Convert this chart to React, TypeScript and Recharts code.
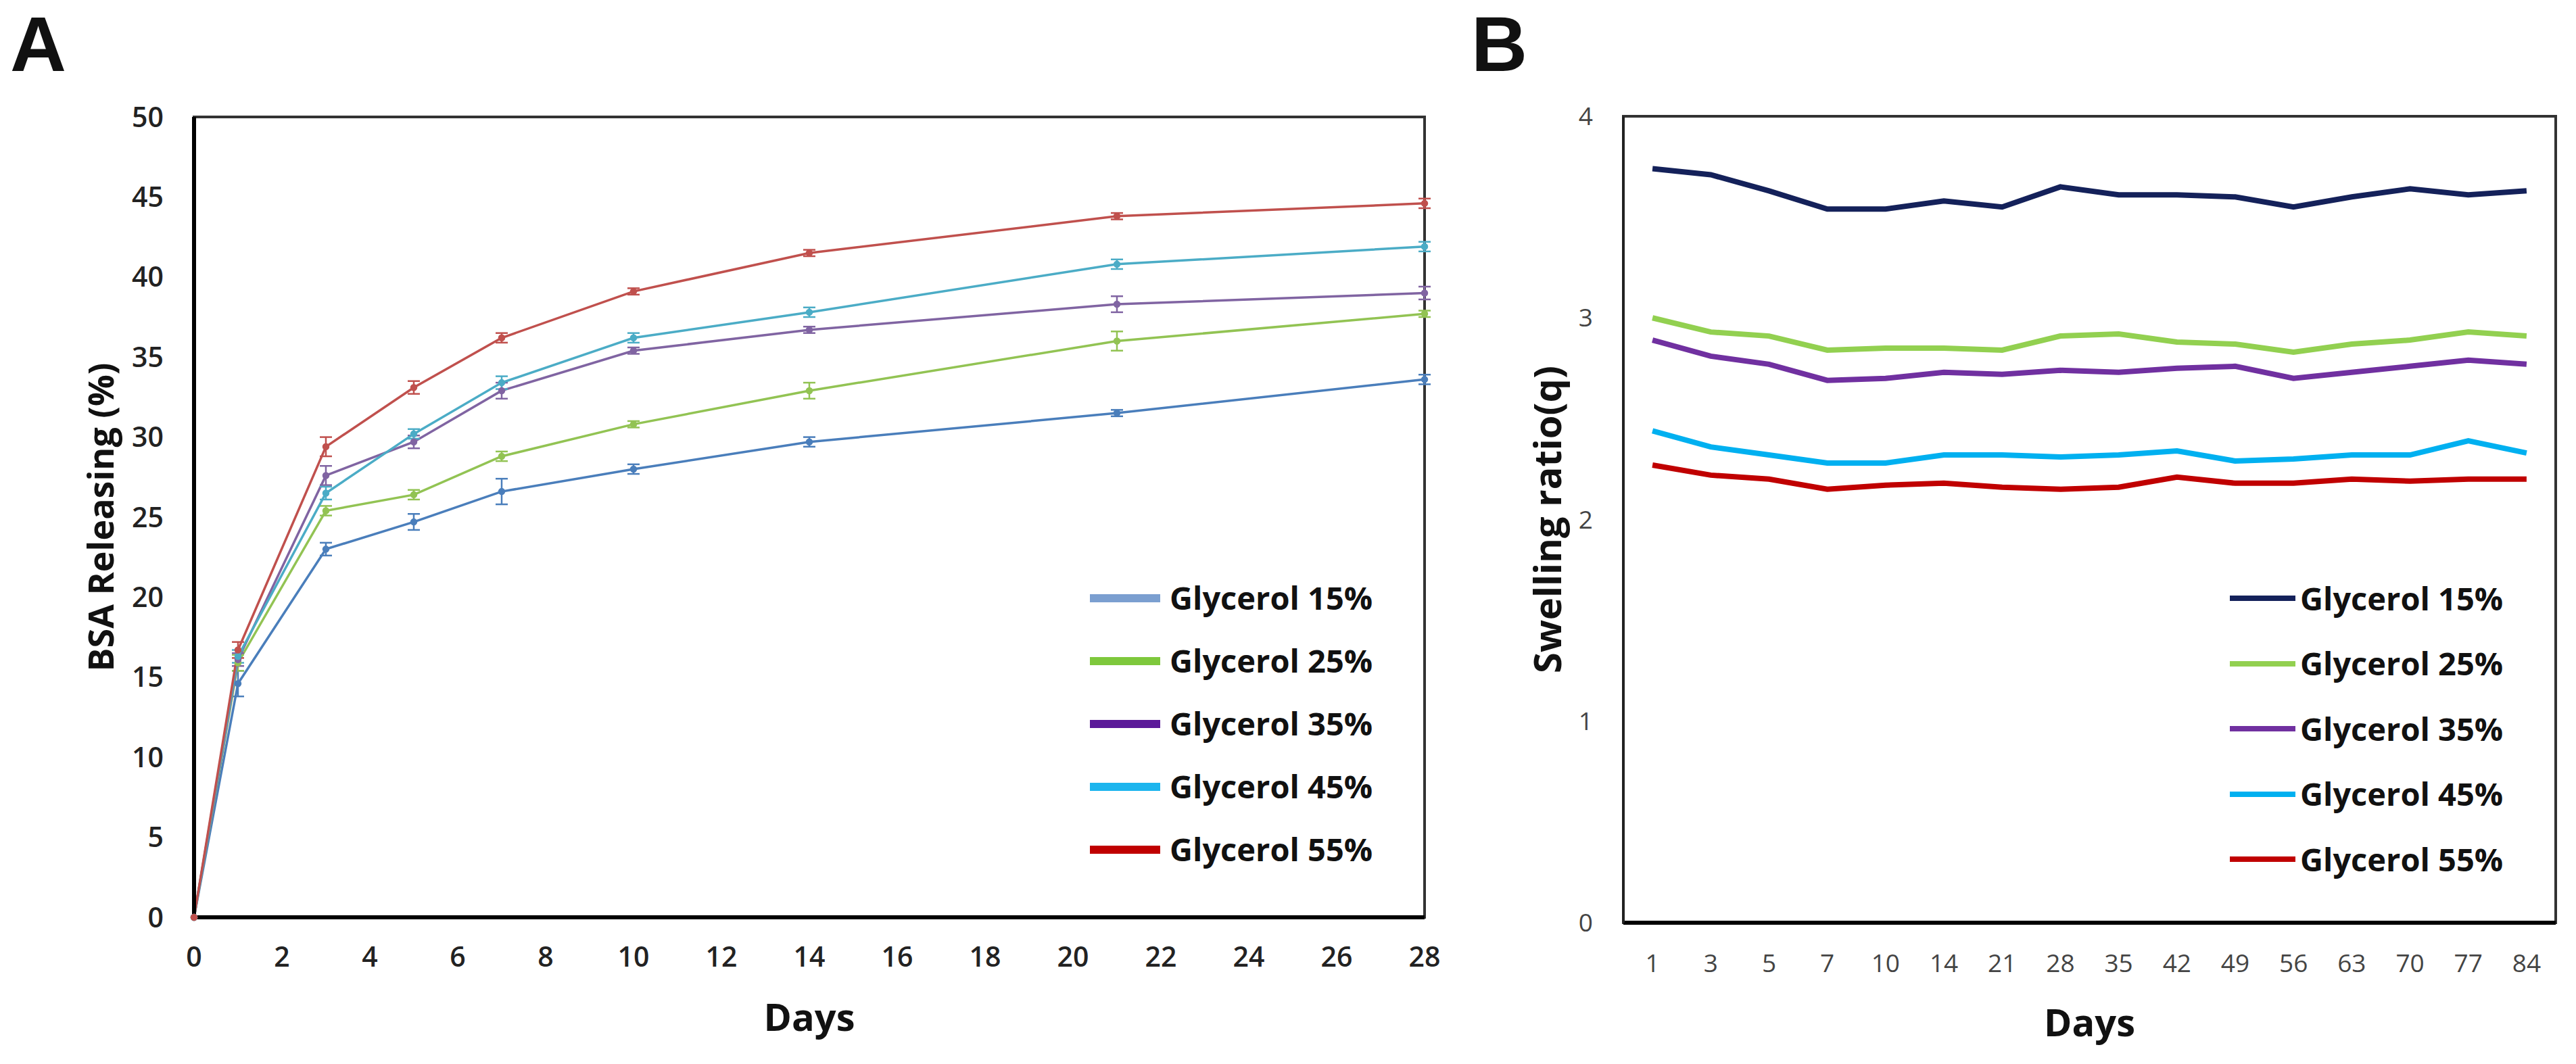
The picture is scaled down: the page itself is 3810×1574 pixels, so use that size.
import React from "react";
import {
  LineChart,
  Line,
  XAxis,
  YAxis,
  ErrorBar,
  ReferenceArea,
  Legend,
} from "recharts";

// panel A: BSA release over 28 days
const releaseDays = [0, 1, 3, 5, 7, 10, 14, 21, 28];
const release15 = [0, 14.6, 23.0, 24.7, 26.6, 28.0, 29.7, 31.5, 33.6];
const release25 = [0, 15.9, 25.4, 26.4, 28.8, 30.8, 32.9, 36.0, 37.7];
const release35 = [0, 16.1, 27.6, 29.7, 32.9, 35.4, 36.7, 38.3, 39.0];
const release45 = [0, 16.3, 26.5, 30.2, 33.4, 36.2, 37.8, 40.8, 41.9];
const release55 = [0, 16.7, 29.4, 33.1, 36.2, 39.1, 41.5, 43.8, 44.6];
const err15 = [0, 0.8, 0.4, 0.5, 0.8, 0.3, 0.3, 0.2, 0.3];
const err25 = [0, 0.5, 0.3, 0.3, 0.3, 0.2, 0.5, 0.6, 0.2];
const err35 = [0, 0.4, 0.6, 0.4, 0.5, 0.2, 0.2, 0.5, 0.4];
const err45 = [0, 0.4, 0.4, 0.3, 0.4, 0.3, 0.3, 0.3, 0.3];
const err55 = [0, 0.5, 0.6, 0.4, 0.3, 0.2, 0.2, 0.2, 0.3];
const releaseTicksX = [0, 2, 4, 6, 8, 10, 12, 14, 16, 18, 20, 22, 24, 26, 28];
const releaseTicksY = [0, 5, 10, 15, 20, 25, 30, 35, 40, 45, 50];

// panel B: swelling ratio over 84 days
const swellDays = ["1", "3", "5", "7", "10", "14", "21", "28", "35", "42", "49", "56", "63", "70", "77", "84"];
const swell15 = [3.74, 3.71, 3.63, 3.54, 3.54, 3.58, 3.55, 3.65, 3.61, 3.61, 3.60, 3.55, 3.60, 3.64, 3.61, 3.63];
const swell25 = [3.0, 2.93, 2.91, 2.84, 2.85, 2.85, 2.84, 2.91, 2.92, 2.88, 2.87, 2.83, 2.87, 2.89, 2.93, 2.91];
const swell35 = [2.89, 2.81, 2.77, 2.69, 2.7, 2.73, 2.72, 2.74, 2.73, 2.75, 2.76, 2.7, 2.73, 2.76, 2.79, 2.77];
const swell45 = [2.44, 2.36, 2.32, 2.28, 2.28, 2.32, 2.32, 2.31, 2.32, 2.34, 2.29, 2.3, 2.32, 2.32, 2.39, 2.33];
const swell55 = [2.27, 2.22, 2.2, 2.15, 2.17, 2.18, 2.16, 2.15, 2.16, 2.21, 2.18, 2.18, 2.2, 2.19, 2.2, 2.2];
const swellTicksY = [0, 1, 2, 3, 4];

const seriesNames = ["Glycerol 15%", "Glycerol 25%", "Glycerol 35%", "Glycerol 45%", "Glycerol 55%"];
const lineColorsA = ["#4a7ebb", "#92c353", "#8064a2", "#4bacc6", "#c0504d"];
const keyColorsA = ["#7b9fd0", "#7ec83c", "#5b1a99", "#1cb5ee", "#c00000"];
const colorsB = ["#14215a", "#92d050", "#7030a0", "#00b0f0", "#c00000"];

const font = "'Open Sans', 'DejaVu Sans', sans-serif";

const releaseData = releaseDays.map((d, i) => ({
  day: d,
  g15: release15[i],
  g25: release25[i],
  g35: release35[i],
  g45: release45[i],
  g55: release55[i],
  e15: err15[i],
  e25: err25[i],
  e35: err35[i],
  e45: err45[i],
  e55: err55[i],
}));

const swellData = swellDays.map((d, i) => ({
  idx: i,
  day: d,
  g15: swell15[i],
  g25: swell25[i],
  g35: swell35[i],
  g45: swell45[i],
  g55: swell55[i],
}));

const keys = ["g15", "g25", "g35", "g45", "g55"];

function AxisTitle(props: any) {
  const { viewBox, text, dx = 0, dy = 0, vertical, size } = props;
  const cx = vertical ? viewBox.x + dx : viewBox.x + viewBox.width / 2;
  const cy = vertical ? viewBox.y + viewBox.height / 2 : viewBox.y + dy;
  return (
    <text
      x={cx}
      y={cy}
      transform={vertical ? `rotate(-90 ${cx} ${cy})` : undefined}
      textAnchor="middle"
      dominantBaseline="central"
      fontFamily={font}
      fontWeight={700}
      fontSize={size}
      fill="#111"
    >
      {text}
    </text>
  );
}

function SeriesKey(props: any) {
  const { colors, rowH, swatchW, swatchH, gap } = props;
  return (
    <div>
      {seriesNames.map((n, i) => (
        <div key={n} style={{ display: "flex", alignItems: "center", height: rowH }}>
          <span style={{ display: "inline-block", width: swatchW, height: swatchH, background: colors[i] }} />
          <span
            style={{
              marginLeft: gap,
              fontFamily: font,
              fontWeight: 700,
              fontSize: 47,
              lineHeight: 1,
              color: "#111",
              whiteSpace: "nowrap",
            }}
          >
            {n}
          </span>
        </div>
      ))}
    </div>
  );
}

const panelLetter: React.CSSProperties = {
  position: "absolute",
  top: 8,
  fontFamily: "'Liberation Sans', Arial, sans-serif",
  fontWeight: 700,
  fontSize: 115,
  lineHeight: 1,
  color: "#111",
};

export default function App() {
  return (
    <div style={{ position: "absolute", left: 0, top: 0, width: 3810, height: 1574, background: "#fff", overflow: "hidden" }}>
      <div style={{ ...panelLetter, left: 15 }}>A</div>
      <div style={{ ...panelLetter, left: 2176 }}>B</div>

      <div style={{ position: "absolute", left: 0, top: 0 }}>
        <LineChart width={2200} height={1574} data={releaseData} margin={{ top: 173, right: 93, left: 167, bottom: 97 }}>
          <ReferenceArea x1={0} x2={28} y1={0} y2={50} fill="none" stroke="#333" strokeWidth={4} ifOverflow="visible" />
          <XAxis
            dataKey="day"
            type="number"
            domain={[0, 28]}
            ticks={releaseTicksX}
            height={120}
            tickLine={false}
            tickSize={0}
            tickMargin={44}
            axisLine={{ stroke: "#000", strokeWidth: 6 }}
            tick={{ fontFamily: font, fontSize: 41, fontWeight: 600, fill: "#222" }}
            label={{ content: (p: any) => <AxisTitle {...p} text="Days" dy={146} size={56} /> }}
          />
          <YAxis
            type="number"
            domain={[0, 50]}
            ticks={releaseTicksY}
            width={120}
            tickLine={false}
            tickSize={0}
            tickMargin={45}
            axisLine={{ stroke: "#000", strokeWidth: 6 }}
            tick={{ fontFamily: font, fontSize: 41, fontWeight: 600, fill: "#222" }}
            label={{ content: (p: any) => <AxisTitle {...p} text="BSA Releasing (%)" vertical dx={-20} size={52} /> }}
          />
          {keys.map((k, i) => (
            <Line
              key={k}
              dataKey={k}
              name={seriesNames[i]}
              stroke={lineColorsA[i]}
              strokeWidth={3.5}
              dot={{ r: 3.5, fill: lineColorsA[i], stroke: lineColorsA[i] }}
              isAnimationActive={false}
            >
              <ErrorBar
                dataKey={"e" + k.slice(1)}
                direction="y"
                width={9}
                stroke={lineColorsA[i]}
                strokeWidth={2.5}
                isAnimationActive={false}
              />
            </Line>
          ))}
          <Legend
            layout="vertical"
            align="center"
            verticalAlign="middle"
            wrapperStyle={{ left: 1612, top: 838, width: 520 }}
            content={() => <SeriesKey colors={keyColorsA} rowH={93} swatchW={104} swatchH={12} gap={14} />}
          />
        </LineChart>
      </div>

      <div style={{ position: "absolute", left: 2200, top: 0 }}>
        <LineChart width={1610} height={1574} data={swellData} margin={{ top: 172, right: 30, left: 81, bottom: 89 }}>
          <ReferenceArea x1={-0.5} x2={15.5} y1={0} y2={4} fill="none" stroke="#333" strokeWidth={4} ifOverflow="visible" />
          <XAxis
            dataKey="idx"
            type="number"
            domain={[-0.5, 15.5]}
            ticks={swellDays.map((_, i) => i)}
            tickFormatter={(v: number) => swellDays[v]}
            height={120}
            tickLine={false}
            tickSize={0}
            tickMargin={47}
            axisLine={{ stroke: "#000", strokeWidth: 6 }}
            tick={{ fontFamily: font, fontSize: 37, fill: "#444" }}
            label={{ content: (p: any) => <AxisTitle {...p} text="Days" dy={146} size={56} /> }}
          />
          <YAxis
            type="number"
            domain={[0, 4]}
            ticks={swellTicksY}
            width={120}
            tickLine={false}
            tickSize={0}
            tickMargin={45}
            axisLine={{ stroke: "#222", strokeWidth: 4 }}
            tick={{ fontFamily: font, fontSize: 37, fill: "#444" }}
            label={{ content: (p: any) => <AxisTitle {...p} text="Swelling ratio(q)" vertical dx={6} size={56} /> }}
          />
          {keys.map((k, i) => (
            <Line
              key={k}
              dataKey={k}
              name={seriesNames[i]}
              stroke={colorsB[i]}
              strokeWidth={8}
              dot={false}
              isAnimationActive={false}
            />
          ))}
          <Legend
            layout="vertical"
            align="center"
            verticalAlign="middle"
            wrapperStyle={{ left: 1098, top: 837, width: 500 }}
            content={() => <SeriesKey colors={colorsB} rowH={96.5} swatchW={97} swatchH={8} gap={7} />}
          />
        </LineChart>
      </div>
    </div>
  );
}
